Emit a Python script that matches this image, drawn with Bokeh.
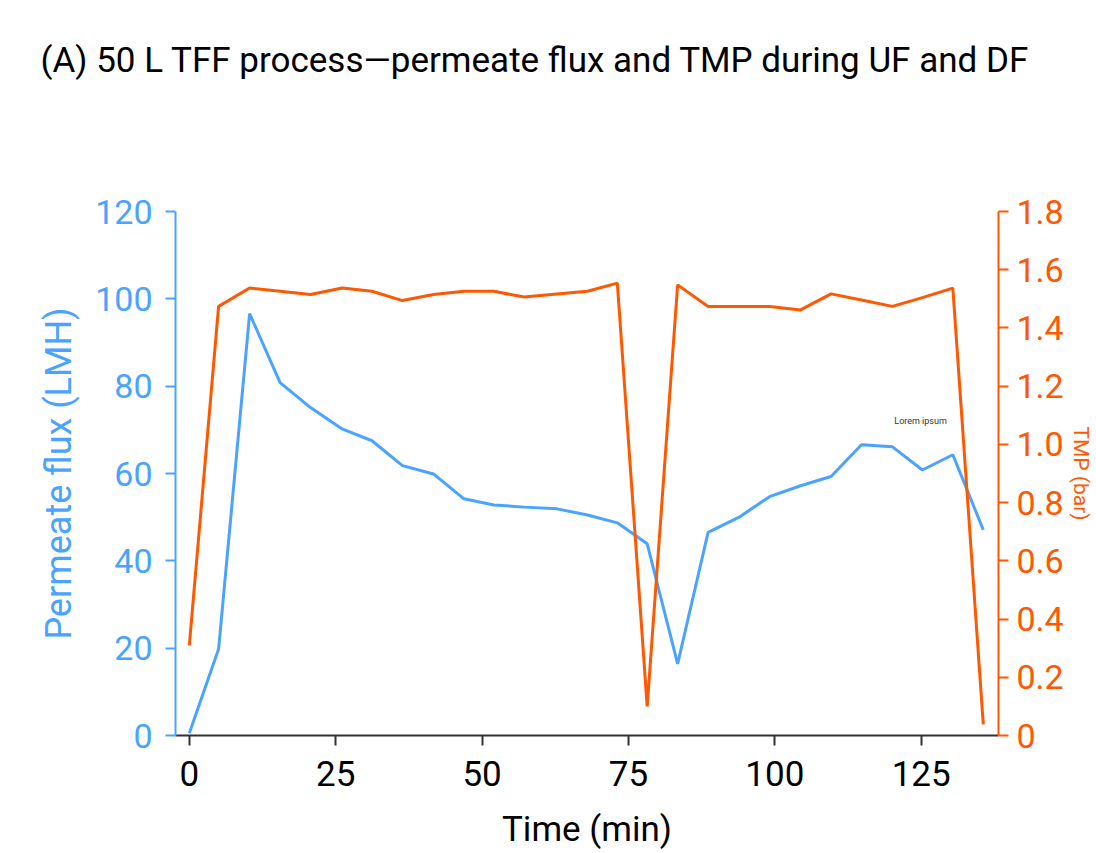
from bokeh.plotting import figure
from bokeh.models import Range1d, LinearAxis, Label, FixedTicker, Title
from bokeh.embed import file_html
from bokeh.resources import INLINE

# ---- data ----
time_min = [0, 5.0, 10.3, 15.5, 20.7, 26.1, 31.2, 36.4, 41.7, 46.9, 52.0, 57.2, 62.8,
            68.0, 73.1, 78.2, 83.4, 88.6, 93.9, 99.1, 104.4, 109.6, 114.8, 120.1,
            125.2, 130.4, 135.6]
flux_lmh = [0.5, 19.8, 96.6, 80.8, 75.1, 70.2, 67.5, 61.8, 59.9, 54.2, 52.8, 52.3, 51.9,
            50.5, 48.7, 43.9, 16.4, 46.5, 50.0, 54.7, 57.2, 59.3, 66.6, 66.1,
            60.8, 64.3, 47.1]
tmp_bar = [0.31, 1.474, 1.537, 1.526, 1.515, 1.537, 1.526, 1.494, 1.515, 1.526, 1.526,
           1.506, 1.517, 1.526, 1.554, 0.10, 1.548, 1.474, 1.474, 1.474, 1.462, 1.517,
           1.496, 1.474, 1.504, 1.537, 0.038]
x_ticks = [0, 25, 50, 75, 100, 125]
flux_ticks = [0, 20, 40, 60, 80, 100, 120]
tmp_ticks = [0, 0.2, 0.4, 0.6, 0.8, 1.0, 1.2, 1.4, 1.6, 1.8]
tmp_tick_labels = {0: "0", 0.2: "0.2", 0.4: "0.4", 0.6: "0.6", 0.8: "0.8", 1.0: "1.0",
                   1.2: "1.2", 1.4: "1.4", 1.6: "1.6", 1.8: "1.8"}

title_text = "(A) 50 L TFF process\u2014permeate flux and TMP during UF and DF"
annotation_text = "Lorem ipsum"

BLUE = "#4aa3ff"
ORANGE = "#ff5800"
DARK = "#333333"
FONT = "Roboto"

p = figure(width=1096, height=853, output_backend="svg", toolbar_location=None,
           title=None,
           x_range=Range1d(-2.36, 138.2), y_range=Range1d(0, 120),
           min_border_left=175, min_border_right=98, min_border_top=211,
           min_border_bottom=118)
p.outline_line_color = None
p.grid.visible = False
p.background_fill_color = "white"
p.border_fill_color = "white"

# spacer between frame and title (added first -> nearest the frame)
p.add_layout(Title(text=" ", text_font_size="2px", text_color="white",
                   standoff=122), "above")
# title
p.add_layout(Title(text=title_text, text_font=FONT, text_font_size="35px",
                   text_font_style="normal", text_color="black", align="left",
                   offset=-135, standoff=10), "above")

p.extra_y_ranges = {"tmp": Range1d(0, 1.8)}

# lines
p.line(time_min, flux_lmh, line_color=BLUE, line_width=3)
p.line(time_min, tmp_bar, line_color=ORANGE, line_width=3, y_range_name="tmp")

# x axis
xa = p.xaxis[0]
xa.ticker = FixedTicker(ticks=x_ticks)
xa.minor_tick_line_color = None
xa.axis_line_color = DARK
xa.axis_line_width = 2
xa.major_tick_line_color = DARK
xa.major_tick_line_width = 2
xa.major_tick_out = 10
xa.major_tick_in = 0
xa.major_label_text_font = FONT
xa.major_label_text_font_size = "35px"
xa.major_label_text_color = "black"
xa.major_label_standoff = 15
xa.axis_label = "Time (min)"
xa.axis_label_text_font = FONT
xa.axis_label_text_font_size = "35px"
xa.axis_label_text_font_style = "normal"
xa.axis_label_text_color = "black"
xa.axis_label_standoff = 20

# left axis
ya = p.yaxis[0]
ya.ticker = FixedTicker(ticks=flux_ticks)
ya.minor_tick_line_color = None
ya.axis_line_color = BLUE
ya.axis_line_width = 2
ya.major_tick_line_color = BLUE
ya.major_tick_line_width = 2
ya.major_tick_out = 10
ya.major_tick_in = 0
ya.major_label_text_font = FONT
ya.major_label_text_font_size = "34px"
ya.major_label_text_color = BLUE
ya.major_label_standoff = 13
ya.axis_label = "Permeate flux (LMH)"
ya.axis_label_text_font = FONT
ya.axis_label_text_font_size = "36px"
ya.axis_label_text_font_style = "normal"
ya.axis_label_text_color = BLUE
ya.axis_label_standoff = 12

# right axis
ra = LinearAxis(y_range_name="tmp")
ra.ticker = FixedTicker(ticks=tmp_ticks)
ra.major_label_overrides = tmp_tick_labels
ra.minor_tick_line_color = None
ra.axis_line_color = ORANGE
ra.axis_line_width = 2
ra.major_tick_line_color = ORANGE
ra.major_tick_line_width = 2
ra.major_tick_out = 10
ra.major_tick_in = 0
ra.major_label_text_font = FONT
ra.major_label_text_font_size = "34px"
ra.major_label_text_color = ORANGE
ra.major_label_standoff = 8
ra.axis_label = "TMP (bar)"
ra.axis_label_text_font = FONT
ra.axis_label_text_font_size = "21px"
ra.axis_label_text_font_style = "normal"
ra.axis_label_text_color = ORANGE
ra.axis_label_standoff = 2
p.add_layout(ra, "right")

# small annotation inside the plot
p.add_layout(Label(x=120.4, y=72, text=annotation_text, text_align="left",
                   text_baseline="middle", text_font=FONT,
                   text_font_size="9px", text_color=DARK))

open("out.html", "w").write(file_html(p, INLINE))
